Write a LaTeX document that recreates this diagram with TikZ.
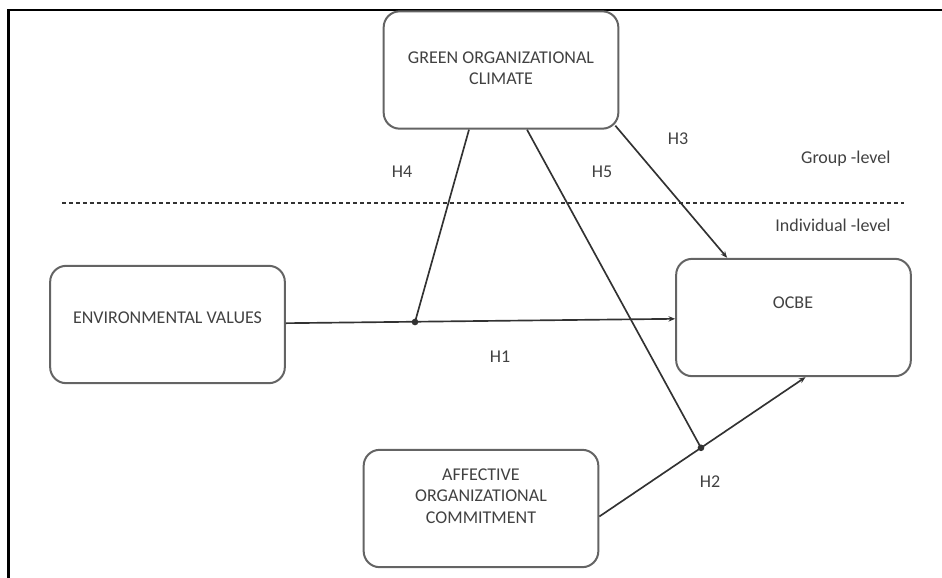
\documentclass[tikz,border=0pt]{standalone}
\usepackage{fontspec}
\setmainfont{Carlito}
\usetikzlibrary{arrows.meta,calc}

\definecolor{boxgray}{RGB}{100,100,100}
\definecolor{txtgray}{RGB}{65,65,65}
\definecolor{linegray}{RGB}{50,50,50}

\tikzset{every picture/.style={line width=0.75pt}}
\tikzset{
  varbox/.style={draw=boxgray, line width=1.5pt, rounded corners=12pt, minimum width=176pt, minimum height=88pt, inner sep=0pt},
  vartext/.style={text=txtgray, font=\fontsize{13.5}{16}\selectfont, align=center, inner sep=0.75pt},
  hyplabel/.style={text=txtgray, font=\fontsize{13.5}{16}\selectfont, inner sep=0.75pt},
  link/.style={draw=linegray, line width=1.25pt},
  arr/.style={link, -{Stealth[length=5pt,width=4pt]}},
  moddot/.style={circle, fill=linegray, inner sep=0pt, minimum size=5pt},
}

\begin{document}
\begin{tikzpicture}[x=0.75pt,y=0.75pt,yscale=-1,xscale=1]
        \useasboundingbox (0,0) rectangle (942,578);

        %Shape: Frame
        \draw [line width=2pt] (942,10) -- (8.7,10) -- (8.7,578) ;

        %Shape: Rounded boxes
        \node [varbox] (gc) at (501,70) {};
        \node [varbox] (ev) at (167.5,324.5) {};
        \node [varbox] (oc) at (793.5,317.5) {};
        \node [varbox] (af) at (481,508.5) {};

        % Text Node
        \node [vartext] (gct) at (501,68) {GREEN ORGANIZATIONAL\\CLIMATE};
        % Text Node
        \node [vartext] (evt) at (167.5,318) {ENVIRONMENTAL VALUES};
        % Text Node
        \node [vartext] (oct) at (793,303) {OCBE};
        % Text Node
        \node [vartext] (aft) at (481,496) {AFFECTIVE\\ORGANIZATIONAL\\COMMITMENT};

        %Shape: Level divider
        \draw [draw=linegray, line width=1pt, dash pattern={on 3pt off 2.2pt}] (62,203) -- (904,203) ;

        %Connectors
        \coordinate (h2s) at ($(af.east)+(0,8)$);
        \coordinate (h2e) at ($(oc.south)+(12,0)$);
        \node [moddot] (m1) at (415,322) {};
        \node [moddot] (m2) at ($(h2s)!0.493!(h2e)$) {};

        \draw [arr] (ev) -- (oc) ;
        \draw [arr] (h2s) -- (h2e) ;
        \draw [arr] ($(gc.south east)+(-4,-4)$) -- ($(oc.north west)+(52,0)$) ;
        \draw [link] ($(gc.south)+(-32,0)$) -- (m1.center) ;
        \draw [link] ($(gc.south)+(26,0)$) -- (m2.center) ;

        % Text Node
        \node [hyplabel] (h1) at (500,357) {H1};
        \node [hyplabel] (h2) at (710,482) {H2};
        \node [hyplabel] (h3) at (678,139) {H3};
        \node [hyplabel] (h4) at (402,172) {H4};
        \node [hyplabel] (h5) at (602,172) {H5};
        % Text Node
        \node [hyplabel, anchor=east] (grp) at (892,159) {Group -level};
        \node [hyplabel, anchor=east] (ind) at (892,225) {Individual -level};

\end{tikzpicture}
\end{document}
